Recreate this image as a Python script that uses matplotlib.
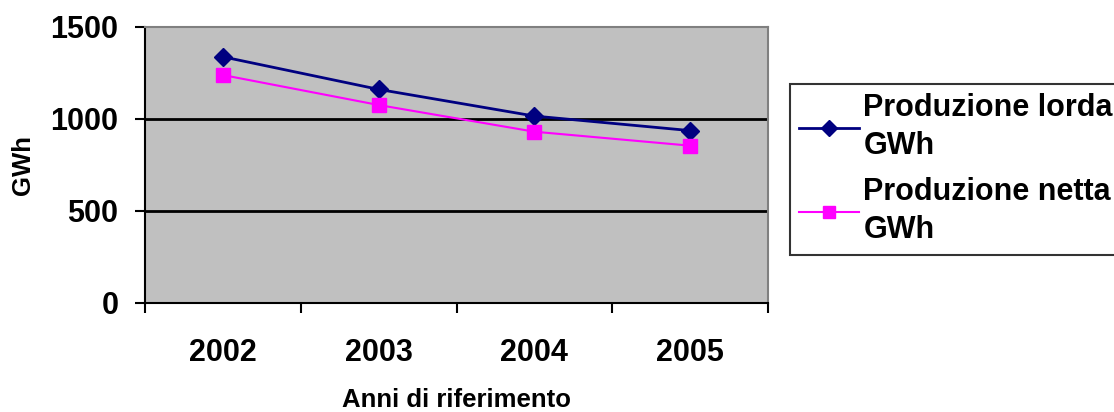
import matplotlib.pyplot as plt
from matplotlib.ticker import FixedLocator

anni = ["2002", "2003", "2004", "2005"]
lorda = [1338, 1161, 1016, 937]
netta = [1239, 1076, 931, 855]
y_ticks = [0, 500, 1000, 1500]

plt.rcParams['font.family'] = ['Liberation Sans', 'DejaVu Sans']
plt.rcParams['font.weight'] = 'bold'

fig = plt.figure(figsize=(11.14, 4.12), dpi=100)
ax = fig.add_axes([145 / 1114, 109 / 412, 623 / 1114, 276 / 412])
ax.set_facecolor('#C0C0C0')

x = list(range(len(anni)))
ax.plot(x, lorda, color='#000080', marker='D', markersize=9, linewidth=2,
        label='Produzione lorda\nGWh')
ax.plot(x, netta, color='#FF00FF', marker='s', markersize=10.5, linewidth=1.5,
        label='Produzione netta\nGWh')

ax.set_xlim(-0.5, len(anni) - 0.5)
ax.set_ylim(0, 1500)
ax.set_yticks(y_ticks)
ax.set_yticklabels([str(v) for v in y_ticks])
for v in y_ticks[1:-1]:
    ax.axhline(v, color='black', linewidth=2, zorder=1)

ax.xaxis.set_major_locator(FixedLocator([i - 0.5 for i in range(len(anni) + 1)]))
ax.xaxis.set_major_formatter(plt.NullFormatter())
ax.xaxis.set_minor_locator(FixedLocator(x))
ax.set_xticklabels(anni, minor=True)
ax.tick_params(axis='x', which='major', length=7.2, width=1.5, direction='out')
ax.tick_params(axis='x', which='minor', length=0, pad=25.5, labelsize=22)
ax.tick_params(axis='y', length=7.2, width=1.5, direction='out', labelsize=22, pad=12)

for s in ['top', 'right']:
    ax.spines[s].set_color('#808080')
    ax.spines[s].set_linewidth(1.5)
for s in ['left', 'bottom']:
    ax.spines[s].set_color('black')
    ax.spines[s].set_linewidth(1.5)

ax.set_ylabel('GWh', fontsize=18.5, fontweight='bold', labelpad=11)
ax.set_xlabel('Anni di riferimento', fontsize=18.5, fontweight='bold', labelpad=14)

leg = fig.legend(loc='upper left', bbox_to_anchor=(790 / 1114, 1 - 84 / 412),
                 fontsize=22, frameon=True, fancybox=False, edgecolor='black',
                 handlelength=1.95, handletextpad=0.15, borderpad=0.3,
                 labelspacing=0.53, borderaxespad=0, markerscale=0.85)
leg.get_frame().set_linewidth(1.5)
for t in leg.get_texts():
    t.set_linespacing(1.35)

fig.savefig('out.png', dpi=100)
